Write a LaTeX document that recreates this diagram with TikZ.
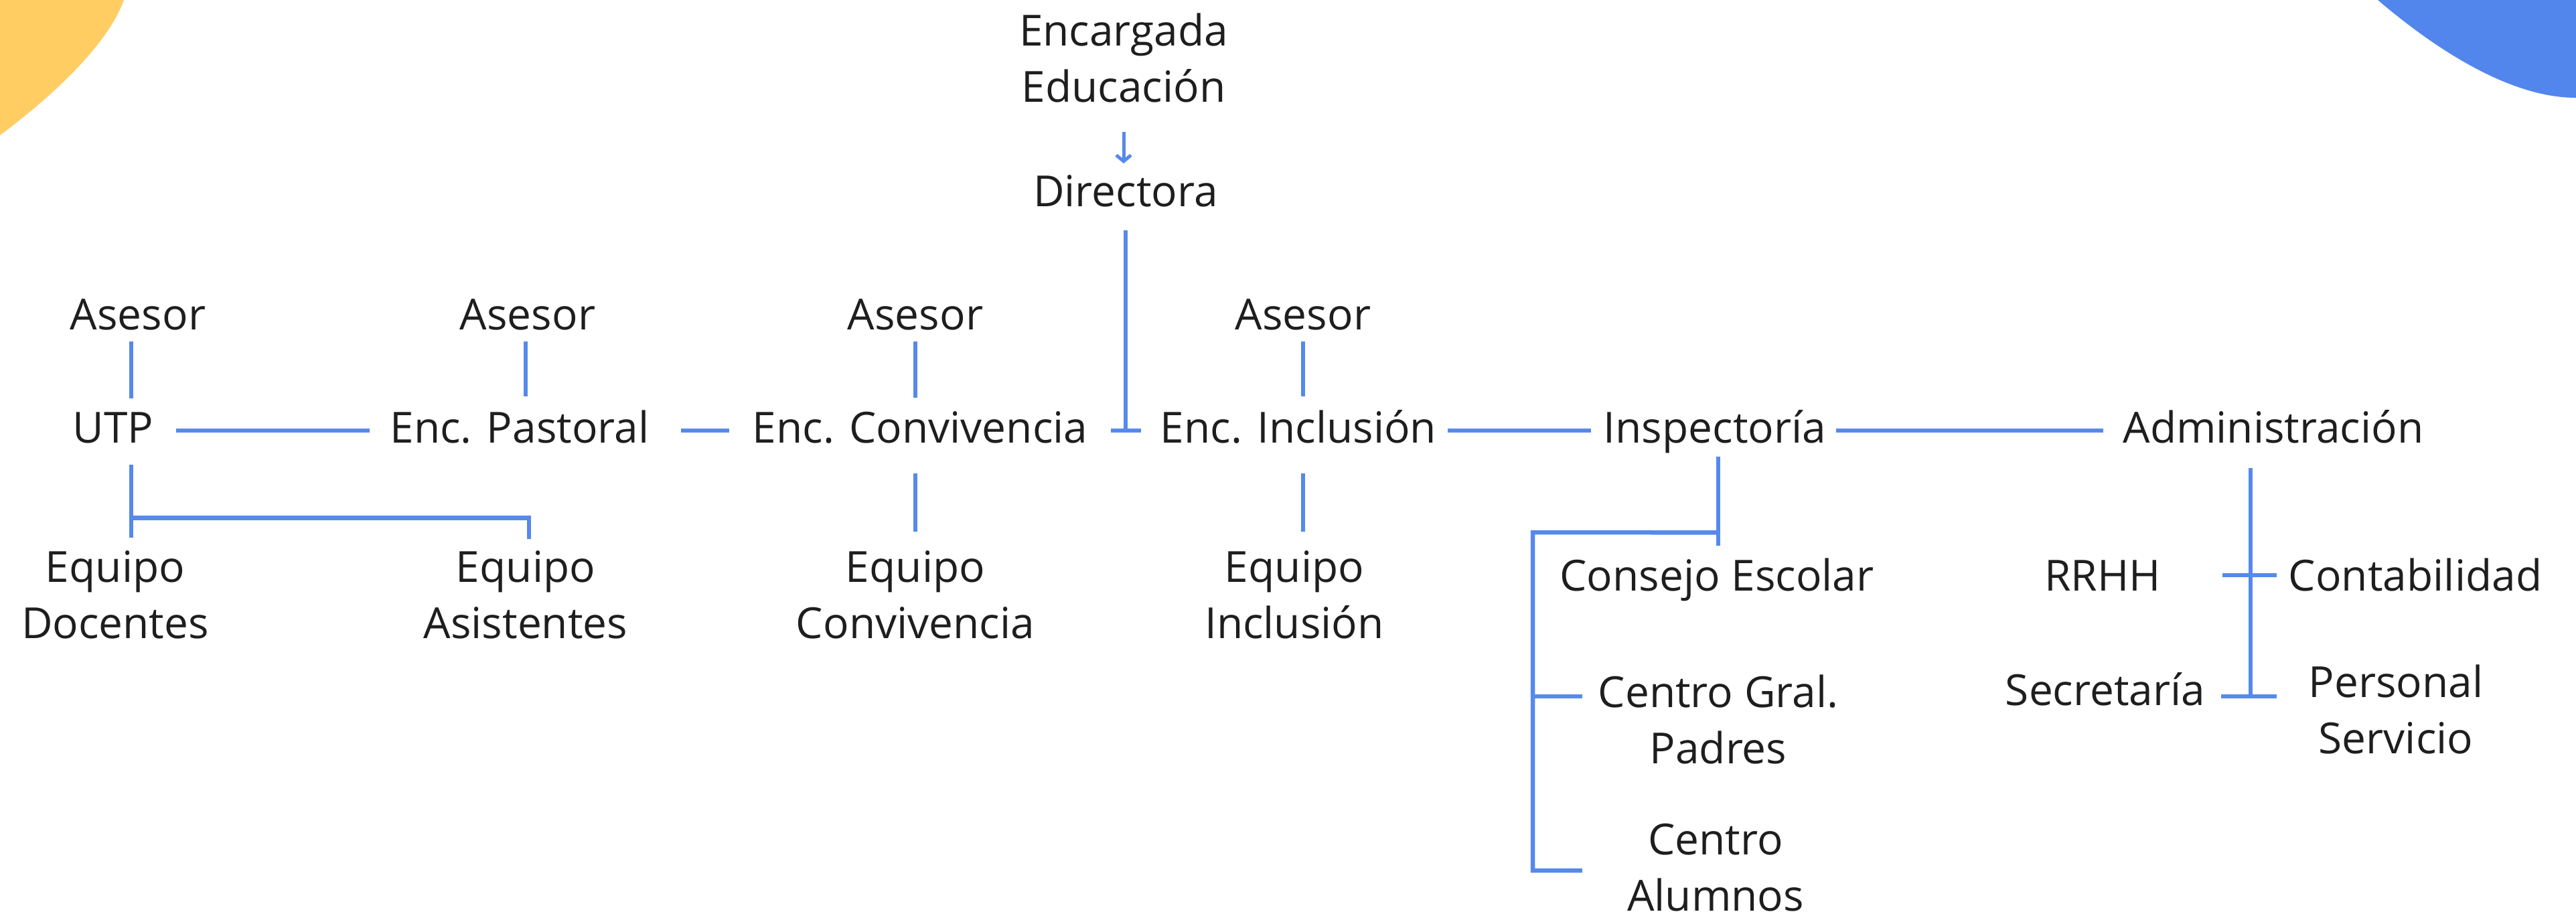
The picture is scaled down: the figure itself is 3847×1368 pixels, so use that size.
\documentclass[tikz,border=0pt]{standalone}
\usepackage{fontspec}
\setmainfont{Open Sans}
\usetikzlibrary{calc,arrows.meta}
\definecolor{txt}{HTML}{1E1E1E}
\definecolor{lblue}{HTML}{5689EC}
\definecolor{blob}{HTML}{5286EC}
\definecolor{sun}{HTML}{FFCD62}
\begin{document}
\begin{tikzpicture}[x=1pt,y=1pt,
  lbl/.style={font=\fontsize{64}{84}\selectfont, text=txt, inner sep=0pt, outer sep=0pt, align=center, anchor=base},
  conn/.style={draw=lblue, line width=6.5pt}]
\useasboundingbox (0,0) rectangle (3847,-1368);
% decorative blobs
\fill[sun] (0,0) -- (185,0) .. controls (160,-70) and (70,-150) .. (0,-202) -- cycle;
\fill[blob] (3551,0) .. controls (3640,-76) and (3750,-146) .. (3847,-146) -- (3847,0) -- cycle;

% nodes (base anchor of a two-line node = baseline of its last line)
\node[lbl] (enc) at (1678,-152) {Encargada\\Educación};
\node[lbl] (dir) at (1681,-308) {Directora};
\node[lbl] (as1) at (206,-492) {Asesor};
\node[lbl] (as2) at (788,-492) {Asesor};
\node[lbl] (as3) at (1367,-492) {Asesor};
\node[lbl] (as4) at (1946,-492) {Asesor};
\node[lbl] (utp) at (169,-661) {UTP};
\node[lbl] (pas) at (776,-661) {Enc. Pastoral};
\node[lbl] (con) at (1374,-661) {Enc. Convivencia};
\node[lbl] (inc) at (1939,-661) {Enc. Inclusión};
\node[lbl] (insp) at (2561,-661) {Inspectoría};
\node[lbl] (adm) at (3395,-661) {Administración};
\node[lbl] (eqd) at (172,-953) {Equipo\\Docentes};
\node[lbl] (eqa) at (785,-953) {Equipo\\Asistentes};
\node[lbl] (eqc) at (1367,-953) {Equipo\\Convivencia};
\node[lbl] (eqi) at (1933,-953) {Equipo\\Inclusión};
\node[lbl] (cons) at (2564,-882) {Consejo Escolar};
\node[lbl] (cgp) at (2566,-1140) {Centro Gral.\\Padres};
\node[lbl] (cal) at (2562,-1360) {Centro\\Alumnos};
\node[lbl] (rrhh) at (3140,-882) {RRHH};
\node[lbl] (cont) at (3607,-882) {Contabilidad};
\node[lbl] (sec) at (3144,-1053) {Secretaría};
\node[lbl] (pers) at (3578,-1125) {Personal\\Servicio};

% helper coordinates
\coordinate (row) at (0,-643);
\coordinate (ispTop) at (2289,-795);
\coordinate (ispMid) at (2289,-1040);
\coordinate (ispBot) at (2289,-1300);
\coordinate (admA) at (3361,-859);
\coordinate (admB) at (3361,-1040);

% arrow Encargada -> Directora
\draw[conn, line width=5pt, -{Straight Barb[length=9pt,width=22pt]}] ($(enc.south)+(0,-44)$) -- ($(dir.north -| enc.south)+(0,17)$);
% Directora down
\draw[conn] ($(dir.south)+(0,-35)$) -- (dir.south |- row);

% main row
\draw[conn] ($(utp.east |- row)+(34,0)$) -- ($(pas.west |- row)+(-30,0)$);
\draw[conn] ($(pas.east |- row)+(47,0)$) -- ($(con.west |- row)+(-35,0)$);
\draw[conn] ($(con.east |- row)+(35,0)$) -- ($(inc.west |- row)+(-29,0)$);
\draw[conn] ($(inc.east |- row)+(17,0)$) -- ($(insp.west |- row)+(-19,0)$);
\draw[conn] ($(insp.east |- row)+(15,0)$) -- ($(adm.west |- row)+(-30,0)$);

% asesor links
\draw[conn] ($(as1.south)+(-10,-17)$) -- ($(utp.north -| as1.south)+(-10,20)$);
\draw[conn] ($(as2.south)+(-3,-17)$) -- ($(pas.north -| as2.south)+(-3,20)$);
\draw[conn] ($(as3.south)+(0,-17)$) -- ($(con.north -| as3.south)+(0,20)$);
\draw[conn] ($(as4.south)+(0,-17)$) -- ($(inc.north -| as4.south)+(0,20)$);

% UTP down
\draw[conn] ($(utp.south)+(27,-32)$) -- ($(utp.south)+(27,-141)$);
\draw[conn] ($(utp.south)+(27,-112)$) -| ($(eqa.north)+(5,17)$);
% Convivencia / Inclusion down
\draw[conn] ($(con.south -| eqc.north)+(0,-45)$) -- ($(eqc.north)+(0,28)$);
\draw[conn] ($(inc.south -| as4.south)+(0,-45)$) -- ($(eqi.north -| as4.south)+(0,28)$);

% Inspectoria
\draw[conn] ($(insp.south)+(5,-6)$) -- ($(insp.south)+(5,-139)$);
\draw[conn] ($(insp.south)+(5,-119)$) -- (ispTop) -- (ispBot) -- ($(ispBot -| cgp.west)+(-24,0)$);
\draw[conn] (ispMid) -- ($(ispMid -| cgp.west)+(-24,0)$);

% Administracion
\draw[conn] ($(adm.south -| admA)+(0,-37)$) -- ($(admB)+(0,-3)$);
\draw[conn] ($(admA)+(-42,0)$) -- ($(admA -| cont.west)+(-18,0)$);
\draw[conn] ($(sec.east |- admB)+(24,0)$) -- ($(admB)+(39,0)$);
\end{tikzpicture}
\end{document}
